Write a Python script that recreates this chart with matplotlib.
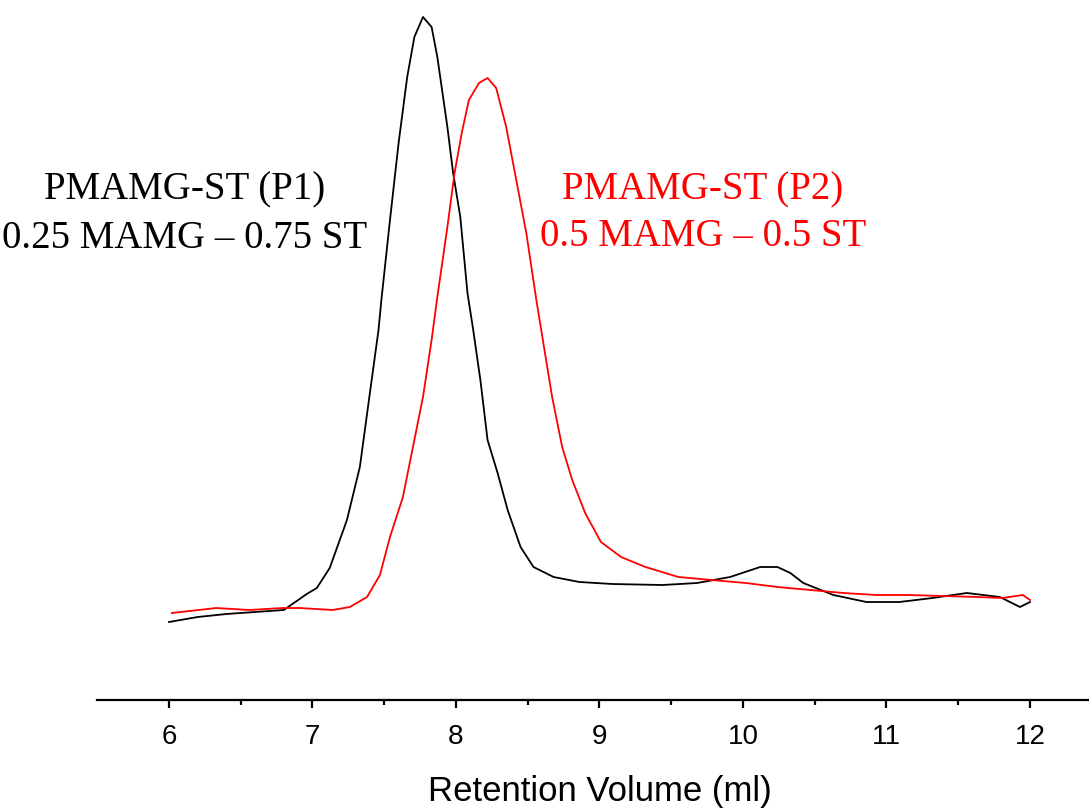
import numpy as np
import matplotlib.pyplot as plt
from matplotlib.ticker import MultipleLocator, FixedLocator

# P1 (black) trace
vol_p1 = [6.00, 6.20, 6.40, 6.60, 6.80, 6.96, 7.03, 7.12, 7.24, 7.33, 7.40, 7.46, 7.48,
          7.54, 7.60, 7.66, 7.71, 7.77, 7.83, 7.87, 7.94, 7.98, 8.03, 8.08, 8.12, 8.17,
          8.22, 8.29, 8.36, 8.45, 8.54, 8.68, 8.86, 9.09, 9.44, 9.68, 9.91, 10.12, 10.24,
          10.33, 10.42, 10.63, 10.86, 11.09, 11.32, 11.56, 11.79, 11.93, 12.00]
sig_p1 = [0.78, 0.83, 0.86, 0.88, 0.90, 1.06, 1.12, 1.32, 1.80, 2.33, 3.07, 3.70, 4.00,
          4.80, 5.57, 6.23, 6.63, 6.83, 6.73, 6.43, 5.73, 5.27, 4.83, 4.07, 3.70, 3.20,
          2.60, 2.27, 1.90, 1.53, 1.33, 1.23, 1.18, 1.16, 1.15, 1.17, 1.23, 1.33, 1.33,
          1.27, 1.17, 1.05, 0.98, 0.98, 1.02, 1.07, 1.03, 0.93, 0.98]

# P2 (red) trace
vol_p2 = [6.02, 6.33, 6.56, 6.79, 6.91, 7.14, 7.26, 7.38, 7.47, 7.54, 7.63, 7.70, 7.77,
          7.83, 7.87, 7.94, 7.99, 8.04, 8.09, 8.16, 8.22, 8.28, 8.35, 8.42, 8.49, 8.56,
          8.62, 8.67, 8.74, 8.81, 8.90, 9.01, 9.15, 9.32, 9.55, 9.78, 10.02, 10.24, 10.47,
          10.70, 10.93, 11.16, 11.39, 11.63, 11.81, 11.95, 12.00]
sig_p2 = [0.87, 0.92, 0.90, 0.92, 0.92, 0.90, 0.93, 1.03, 1.25, 1.63, 2.03, 2.53, 3.03,
          3.60, 4.03, 4.73, 5.27, 5.67, 6.00, 6.17, 6.22, 6.12, 5.73, 5.20, 4.67, 4.00,
          3.47, 3.03, 2.53, 2.20, 1.87, 1.58, 1.43, 1.33, 1.23, 1.20, 1.17, 1.13, 1.10,
          1.07, 1.05, 1.05, 1.04, 1.03, 1.02, 1.05, 1.00]

minor_ticks = [6.5, 7.5, 8.5, 9.5, 10.5, 11.5]

fig = plt.figure(figsize=(10.89, 8.10), dpi=100)
ax = fig.add_axes([0.0893, 0.1358, 0.9224, 0.8642])

ax.plot(vol_p1, sig_p1, color="black", lw=1.3)
ax.plot(vol_p2, sig_p2, color="#ff0000", lw=1.3)

ax.set_xlim(5.5, 12.5)
ax.set_ylim(0, 7.0)

for s in ["left", "right", "top"]:
    ax.spines[s].set_visible(False)
ax.spines["bottom"].set_linewidth(1.6)
ax.set_yticks([])
ax.set_xticks([6, 7, 8, 9, 10, 11, 12])
ax.xaxis.set_minor_locator(FixedLocator(minor_ticks))
ax.tick_params(axis="x", which="major", length=6, width=1.6, pad=11,
               labelsize=20, labelfontfamily="Liberation Sans")
ax.tick_params(axis="x", which="minor", length=3.8, width=1.6)
ax.set_xlabel("Retention Volume (ml)", fontsize=25, family="Liberation Sans", labelpad=18)

serif = "Liberation Serif"
ax.text(6.11, 5.10, "PMAMG-ST (P1)", ha="center", va="center", fontsize=28,
        family=serif, color="black")
ax.text(6.11, 4.62, "0.25 MAMG \u2013 0.75 ST", ha="center", va="center", fontsize=28,
        family=serif, color="black")
ax.text(9.72, 5.10, "PMAMG-ST (P2)", ha="center", va="center", fontsize=28,
        family=serif, color="#ff0000")
ax.text(9.72, 4.64, "0.5 MAMG \u2013 0.5 ST", ha="center", va="center", fontsize=28,
        family=serif, color="#ff0000")

fig.savefig("out.png", dpi=100)
